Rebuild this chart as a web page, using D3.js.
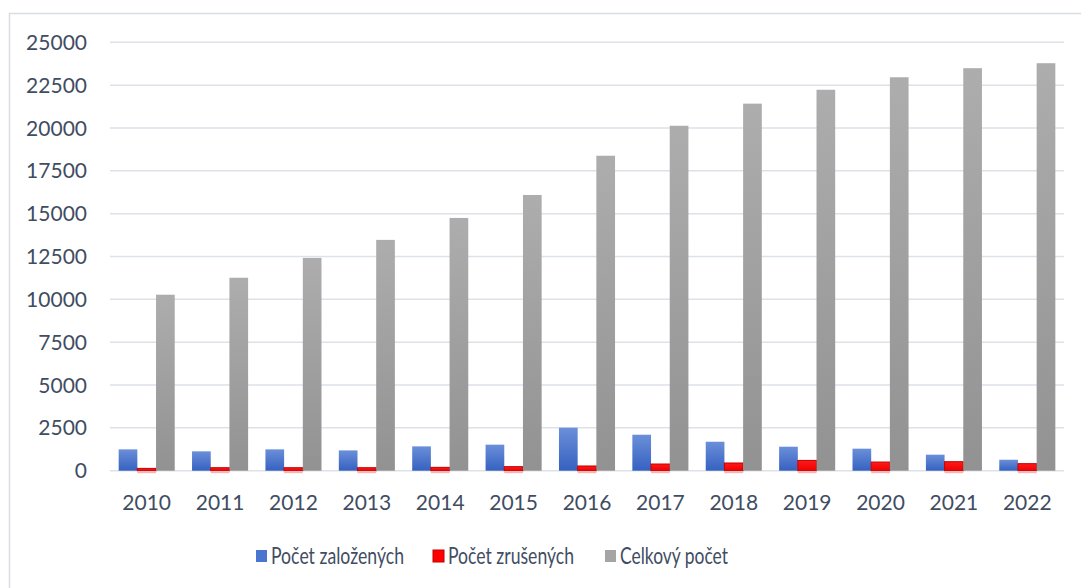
<!DOCTYPE html>
<html>
<head>
<meta charset="utf-8">
<script src="https://cdn.jsdelivr.net/npm/d3@7"></script>
<style>
  body { margin: 0; background: #fff; }
  text { font-family: Lato, "Open Sans", sans-serif; fill: #3f4d63; }
</style>
</head>
<body>
<div id="chart"></div>
<script>
const years = ['2010','2011','2012','2013','2014','2015','2016','2017','2018','2019','2020','2021','2022'];
const zalozenych = [1245, 1130, 1245, 1185, 1420, 1520, 2510, 2100, 1690, 1400, 1285, 935, 640];
const zrusenych  = [135, 175, 175, 175, 195, 235, 275, 390, 450, 600, 505, 525, 410];
const celkovy    = [10270, 11260, 12420, 13470, 14750, 16090, 18380, 20130, 21420, 22230, 22960, 23490, 23780];
const seriesNames = ['Počet založených', 'Počet zrušených', 'Celkový počet'];
const yTicks = [0, 2500, 5000, 7500, 10000, 12500, 15000, 17500, 20000, 22500, 25000];

const width = 1081, height = 588;
const plotLeft = 110, plotRight = 1064, plotTop = 42.3, plotBottom = 470.7;

const svg = d3.select('#chart').append('svg')
  .attr('width', width)
  .attr('height', height);

// gradients for bar fills
const defs = svg.append('defs');
function grad(id, c1, c2) {
  const g = defs.append('linearGradient').attr('id', id)
    .attr('x1', 0).attr('y1', 0).attr('x2', 0).attr('y2', 1);
  g.append('stop').attr('offset', '0%').attr('stop-color', c1);
  g.append('stop').attr('offset', '100%').attr('stop-color', c2);
}
grad('gBlue', '#6b8fd9', '#3561c0');
grad('gRed', '#ff1a1a', '#ee0000');
grad('gGray', '#adadad', '#929292');
const fills = ['url(#gBlue)', 'url(#gRed)', 'url(#gGray)'];
const legendFills = ['#4a76cf', '#ff0000', '#a5a5a5'];

// chart frame (only top & left visible)
svg.append('path')
  .attr('d', `M9.5,${height} V13.5 H${width}`)
  .attr('fill', 'none')
  .attr('stroke', '#d9dde3')
  .attr('stroke-width', 1.5);

const x0 = d3.scaleBand()
  .domain(years)
  .range([plotLeft, plotRight])
  .paddingInner(0.236)
  .paddingOuter(0.118);

const x1 = d3.scaleBand()
  .domain([0, 1, 2])
  .range([0, x0.bandwidth()]);

const y = d3.scaleLinear()
  .domain([0, 25000])
  .range([plotBottom, plotTop]);

// gridlines
svg.append('g')
  .selectAll('line')
  .data(yTicks)
  .join('line')
  .attr('x1', plotLeft).attr('x2', plotRight)
  .attr('y1', d => y(d)).attr('y2', d => y(d))
  .attr('stroke', '#dde1e8')
  .attr('stroke-width', 1.5);

// y labels
svg.append('g')
  .selectAll('text')
  .data(yTicks)
  .join('text')
  .attr('x', 87)
  .attr('y', d => y(d))
  .attr('dy', '0.36em')
  .attr('text-anchor', 'end')
  .style('font-size', '21px')
  .text(d => d);

// x labels
svg.append('g')
  .selectAll('text')
  .data(years)
  .join('text')
  .attr('x', d => x0(d) + x0.bandwidth() / 2)
  .attr('y', 510)
  .attr('text-anchor', 'middle')
  .style('font-size', '21px')
  .text(d => d);

const series = [zalozenych, zrusenych, celkovy];
const groups = svg.append('g')
  .selectAll('g')
  .data(years)
  .join('g')
  .attr('transform', d => `translate(${x0(d)},0)`);

groups.selectAll('rect.bar')
  .data((d, i) => series.map((s, k) => ({k: k, v: s[i]})))
  .join('rect')
  .attr('class', 'bar')
  .attr('x', d => x1(d.k))
  .attr('y', d => y(d.v))
  .attr('width', x1.bandwidth())
  .attr('height', d => y(0) - y(d.v))
  .attr('fill', d => fills[d.k])
  .attr('stroke', d => d.k === 1 ? '#c00000' : 'none')
  .attr('stroke-width', 1);

// faint reflection under red bars
groups.append('rect')
  .attr('x', x1(1))
  .attr('y', y(0) + 1)
  .attr('width', x1.bandwidth())
  .attr('height', 1.5)
  .attr('fill', '#f5b5b5');

// legend
const legendX = [256, 433, 605];
const legendW = [133, 126, 108];
const legend = svg.append('g')
  .selectAll('g')
  .data(seriesNames)
  .join('g')
  .attr('transform', (d, i) => `translate(${legendX[i]},556)`);

legend.append('rect')
  .attr('x', 0).attr('y', -6)
  .attr('width', 11).attr('height', 12)
  .attr('fill', (d, i) => legendFills[i])
  .attr('stroke', (d, i) => i === 1 ? '#c00000' : 'none');

legend.append('text')
  .attr('x', 15)
  .attr('y', 0)
  .attr('dy', '0.36em')
  .attr('textLength', (d, i) => legendW[i])
  .attr('lengthAdjust', 'spacingAndGlyphs')
  .style('font-size', '23px')
  .text(d => d);
</script>
</body>
</html>
